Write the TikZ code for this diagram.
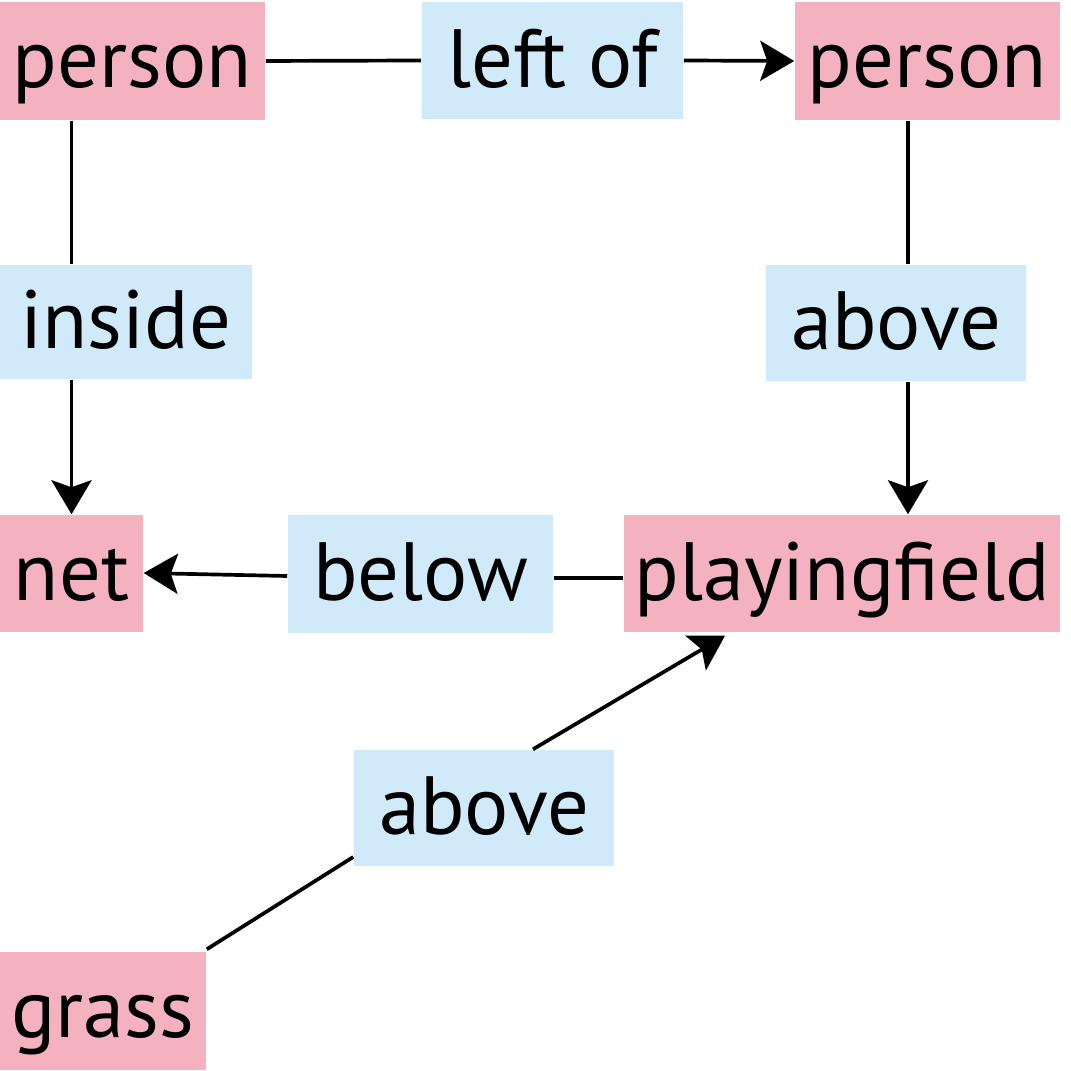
\documentclass[tikz,border=0pt]{standalone}
\usepackage{fontspec}
\setmainfont{PT Sans}
\usetikzlibrary{arrows.meta}
\usetikzlibrary{calc}
\definecolor{objekt}{RGB}{244,178,192}
\definecolor{relation}{RGB}{208,234,250}

\begin{document}
\begin{tikzpicture}[x=0.01cm, y=-0.01cm,
    obj/.style={fill=objekt, inner sep=0pt, text height=18.75pt, text depth=3.5pt,
        font=\fontsize{23.5}{28}\selectfont},
    rel/.style={obj, fill=relation},
    kante/.style={line width=1.05pt},
    pfeil/.style={kante, -{Stealth[length=0.34cm, width=0.40cm, inset=0.07cm]}}]

    \useasboundingbox (0,0) rectangle (1070,1071);

    % Objekte
    \node[obj, minimum width=2.65cm, minimum height=1.18cm] (person1) at (132.5,61) {person};
    \node[obj, minimum width=2.65cm, minimum height=1.18cm] (person2) at (927.5,61) {person};
    \node[obj, minimum width=1.43cm, minimum height=1.17cm] (net) at (71.5,573.5) {net};
    \node[obj, minimum width=4.36cm, minimum height=1.17cm] (field) at (842,573.5) {playingfield};
    \node[obj, minimum width=2.06cm, minimum height=1.18cm] (grass) at (103,1011) {grass};

    % Relationen
    \node[rel, minimum width=2.61cm, minimum height=1.17cm] (leftof) at (552.5,60.5) {left of};
    \node[rel, minimum width=2.52cm, minimum height=1.14cm] (inside) at (126,322) {inside};
    \node[rel, minimum width=2.60cm, minimum height=1.16cm] (above1) at (896,323) {above};
    \node[rel, minimum width=2.65cm, minimum height=1.18cm] (below) at (420.5,574) {below};
    \node[rel, minimum width=2.60cm, minimum height=1.16cm] (above2) at (484,808) {above};

    % Kanten
    \draw[kante] (person1.east) -- (leftof.west);
    \draw[pfeil] (leftof.east) -- (person2.west);

    \draw[kante] (net |- person1.south) -- (net |- inside.north);
    \draw[pfeil] (net |- inside.south) -- (net.north);

    \draw[kante] ($(person2.south)+(-19.5,0)$) -- ($(person2.south |- above1.north)+(-19.5,0)$);
    \draw[pfeil] ($(person2.south |- above1.south)+(-19.5,0)$) -- ($(person2.south |- field.north)+(-19.5,0)$);

    \draw[kante] ($(field.west)+(0,4.5)$) -- ($(below.east)+(0,4)$);
    \draw[pfeil] ($(below.west)+(0,2)$) -- ($(net.east)+(0,-0.5)$);

    \draw[kante] ($(grass.north east)+(0,-2)$) -- ($(above2.west)+(0,49)$);
    \draw[pfeil] ($(above2.north)+(49,0)$) -- ($(field.south)+(-117,3)$);

\end{tikzpicture}
\end{document}
